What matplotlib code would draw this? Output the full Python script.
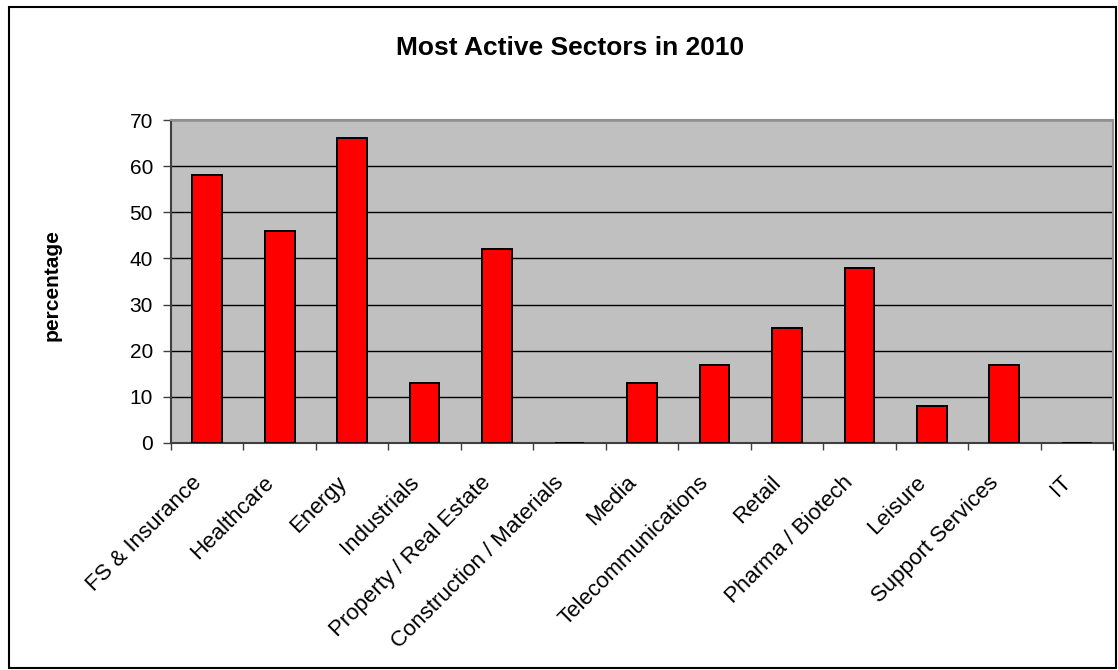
import matplotlib.pyplot as plt
import matplotlib.transforms as mtransforms
import numpy as np
from matplotlib.patches import Rectangle

sectors = ["FS & Insurance", "Healthcare", "Energy", "Industrials",
           "Property / Real Estate", "Construction / Materials", "Media",
           "Telecommunications", "Retail", "Pharma / Biotech", "Leisure",
           "Support Services", "IT"]
percentages = [58, 46, 66, 13, 42, 0, 13, 17, 25, 38, 8, 17, 0]
y_ticks = [0, 10, 20, 30, 40, 50, 60, 70]

plt.rcParams['font.family'] = ['Liberation Sans', 'DejaVu Sans']

W, H = 1118, 670
fig = plt.figure(figsize=(W / 100, H / 100), dpi=100)

# outer chart frame
fig.patches.append(Rectangle((9 / W, 2 / H), 1107 / W, 661 / H,
                             transform=fig.transFigure, fill=False,
                             edgecolor='black', linewidth=1.5))

ax = fig.add_axes([171 / W, 1 - 443 / H, 942 / W, 323 / H])
ax.set_facecolor('#C0C0C0')

x = np.arange(len(sectors))
ax.bar(x, percentages, width=0.41, color='#FF0000', edgecolor='black',
       linewidth=1.4, zorder=3)

ax.set_xlim(-0.5, len(sectors) - 0.5)
ax.set_ylim(0, 70)
ax.set_yticks(y_ticks)
ax.yaxis.grid(True, color='black', linewidth=1)
ax.set_axisbelow(True)

ax.set_xticks(x)
ax.set_xticklabels(sectors, rotation=45, ha='right', va='center',
                   rotation_mode='anchor', fontsize=16)
ax.tick_params(axis='x', which='major', length=0, pad=24)
# nudge the slanted labels a little left/down, like the original
shift = mtransforms.ScaledTranslation(-0.09, -0.03, fig.dpi_scale_trans)
for lbl in ax.get_xticklabels():
    lbl.set_transform(lbl.get_transform() + shift)
ax.set_xticks(np.arange(len(sectors) + 1) - 0.5, minor=True)
ax.tick_params(axis='x', which='minor', length=5, width=1, color='#404040')
ax.tick_params(axis='y', length=6, width=1, color='#404040', labelsize=15,
               pad=7)

for side in ['top', 'right']:
    ax.spines[side].set_color('#909090')
    ax.spines[side].set_linewidth(1.5)
for side in ['left', 'bottom']:
    ax.spines[side].set_color('#404040')
    ax.spines[side].set_linewidth(1.5)

fig.text(52 / W, 1 - 285 / H, 'percentage', rotation=90, ha='center',
         va='center', fontsize=15, fontweight='bold')

fig.text(570 / W, 1 - 55 / H, 'Most Active Sectors in 2010',
         ha='center', va='baseline', fontsize=19, fontweight='bold')

fig.savefig('out.png', dpi=100)
